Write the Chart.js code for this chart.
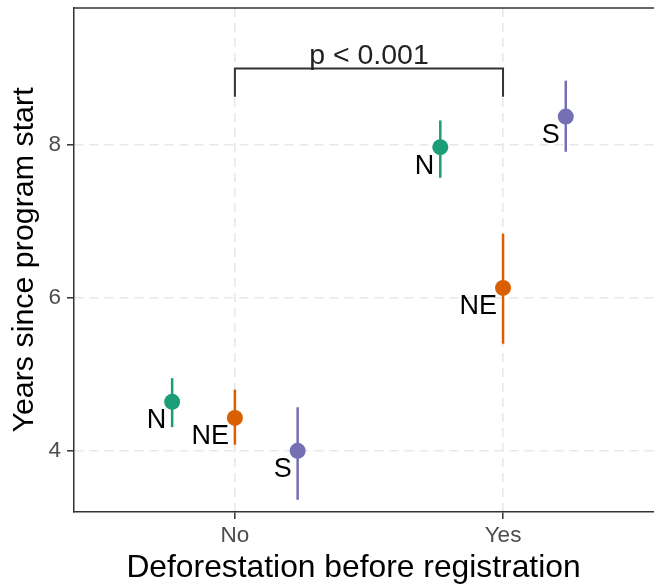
<!DOCTYPE html>
<html>
<head>
<meta charset="utf-8">
<script src="https://cdn.jsdelivr.net/npm/chart.js@4/dist/chart.umd.min.js"></script>
<style>
  html, body { margin: 0; padding: 0; background: #fff; overflow: hidden; }
  canvas { display: block; }
</style>
</head>
<body>
<canvas id="chart" width="654" height="586"></canvas>
<script>
// data
const categories = ['No', 'Yes'];
const regions = ['N', 'NE', 'S'];
const colors = ['#1B9E77', '#D95F02', '#7570B3'];

const meanN = [4.64, 7.97];
const lowN = [4.31, 7.57];
const highN = [4.95, 8.32];

const meanNE = [4.43, 6.13];
const lowNE = [4.08, 5.40];
const highNE = [4.80, 6.84];

const meanS = [4.00, 8.37];
const lowS = [3.36, 7.91];
const highS = [4.57, 8.84];

const yTicks = [4, 6, 8];
const bracketY = [8.63, 9.0];   // leg bottom, bar top
const bracketLabel = 'p < 0.001';
const xTitle = 'Deforestation before registration';

const catIdx = categories.map((c, i) => i);
const dodge = [-0.234, 0, 0.234];
const series = [
  { mean: meanN, low: lowN, high: highN },
  { mean: meanNE, low: lowNE, high: highNE },
  { mean: meanS, low: lowS, high: highS }
];

const FONT = '"Liberation Sans", Arial, sans-serif';
Chart.defaults.font.family = FONT;

const datasets = series.map((s, k) => ({
  label: regions[k],
  data: s.mean.map((m, i) => ({ x: catIdx[i] + dodge[k], y: m })),
  backgroundColor: colors[k],
  borderColor: colors[k],
  pointRadius: 8,
  pointHoverRadius: 8,
  borderWidth: 0
}));

const errorBars = {
  id: 'errorBars',
  beforeDatasetsDraw(chart) {
    const { ctx, scales: { x, y } } = chart;
    ctx.save();
    ctx.lineWidth = 2.5;
    series.forEach((s, k) => {
      ctx.strokeStyle = colors[k];
      s.mean.forEach((m, i) => {
        const px = x.getPixelForValue(catIdx[i] + dodge[k]);
        ctx.beginPath();
        ctx.moveTo(px, y.getPixelForValue(s.low[i]));
        ctx.lineTo(px, y.getPixelForValue(s.high[i]));
        ctx.stroke();
      });
    });
    ctx.restore();
  }
};

const pointLabels = {
  id: 'pointLabels',
  afterDatasetsDraw(chart) {
    const ctx = chart.ctx;
    ctx.save();
    ctx.font = '27px ' + FONT;
    ctx.fillStyle = '#000';
    ctx.textAlign = 'right';
    ctx.textBaseline = 'middle';
    chart.data.datasets.forEach((ds, k) => {
      chart.getDatasetMeta(k).data.forEach(pt => {
        ctx.fillText(ds.label, pt.x - 6, pt.y + 19);
      });
    });
    ctx.restore();
  }
};

const frame = {
  id: 'frame',
  afterDraw(chart) {
    const { ctx, chartArea: a, scales: { x, y } } = chart;
    ctx.save();
    // top edge of the panel
    ctx.strokeStyle = '#333333';
    ctx.lineWidth = 1.5;
    ctx.beginPath();
    ctx.moveTo(a.left, a.top);
    ctx.lineTo(a.right, a.top);
    ctx.stroke();
    // significance bracket
    const x0 = x.getPixelForValue(catIdx[0]);
    const x1 = x.getPixelForValue(catIdx[1]);
    const yb = y.getPixelForValue(bracketY[0]);
    const yt = y.getPixelForValue(bracketY[1]);
    ctx.lineWidth = 2;
    ctx.beginPath();
    ctx.moveTo(x0, yb);
    ctx.lineTo(x0, yt);
    ctx.lineTo(x1, yt);
    ctx.lineTo(x1, yb);
    ctx.stroke();
    ctx.fillStyle = '#222';
    ctx.font = '28.5px ' + FONT;
    ctx.textAlign = 'center';
    ctx.textBaseline = 'alphabetic';
    ctx.fillText(bracketLabel, (x0 + x1) / 2, yt - 4);
    // x axis title (centred as in the source figure)
    ctx.fillStyle = '#000';
    ctx.font = '31.8px ' + FONT;
    ctx.fillText(xTitle, (a.left + a.right) / 2 - 10.5, 577);
    ctx.restore();
  }
};

new Chart(document.getElementById('chart'), {
  type: 'scatter',
  data: { datasets: datasets },
  options: {
    responsive: false,
    animation: false,
    layout: { autoPadding: false, padding: { top: 8, right: 0, left: 0, bottom: 0 } },
    plugins: { legend: { display: false }, tooltip: { enabled: false } },
    scales: {
      x: {
        type: 'linear',
        min: -0.6,
        max: 1.563,
        afterBuildTicks: s => { s.ticks = catIdx.map(v => ({ value: v })); },
        afterFit: s => { s.height = 74; s.paddingLeft = 0; s.paddingRight = 0; },
        ticks: {
          callback: v => categories[v],
          font: { size: 22.5 },
          color: '#4D4D4D',
          padding: 3
        },
        grid: { color: '#E8E8E8', lineWidth: 1.6, tickColor: '#333333', tickLength: 7, tickWidth: 1.5 },
        border: { color: '#333333', width: 1.5, dash: [9, 6] },
        title: { display: false }
      },
      y: {
        type: 'linear',
        min: 3.2,
        max: 9.79,
        afterBuildTicks: s => { s.ticks = yTicks.map(v => ({ value: v })); },
        afterFit: s => { s.width = 74; s.paddingTop = 0; s.paddingBottom = 0; },
        ticks: { font: { size: 22.5 }, color: '#4D4D4D', padding: 6 },
        grid: { color: '#E8E8E8', lineWidth: 1.6, tickColor: '#333333', tickLength: 7, tickWidth: 1.5 },
        border: { color: '#333333', width: 1.5, dash: [9, 6] },
        title: {
          display: true,
          text: 'Years since program start',
          font: { size: 30.4 },
          color: '#000',
          padding: { top: 6.5, bottom: 0 }
        }
      }
    }
  },
  plugins: [errorBars, pointLabels, frame]
});
</script>
</body>
</html>
